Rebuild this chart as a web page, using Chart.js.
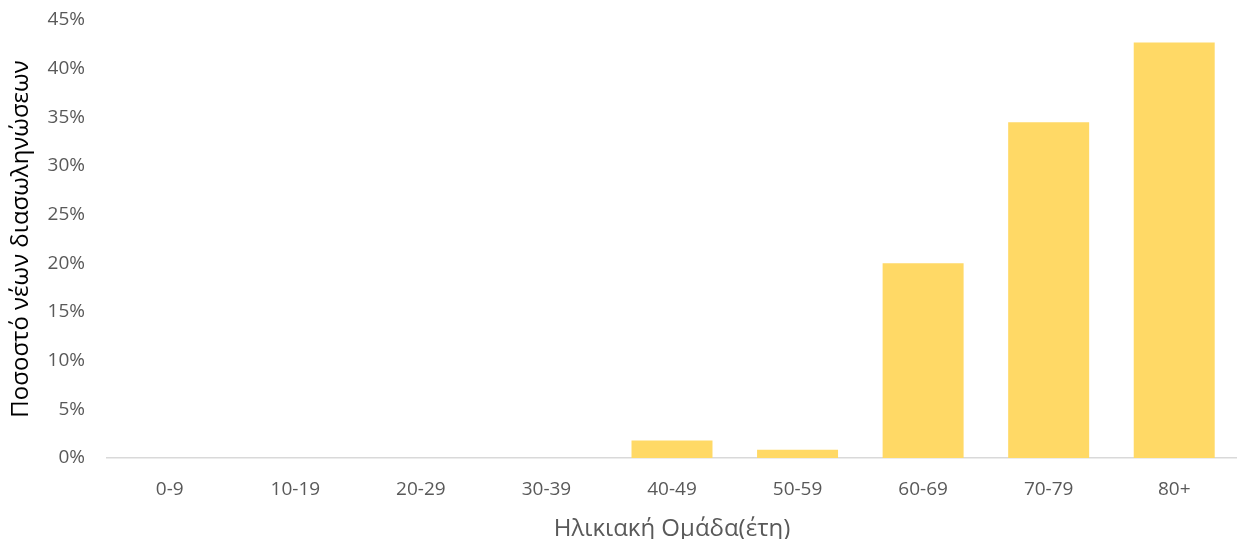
<!DOCTYPE html>
<html>
<head>
<meta charset="utf-8">
<script src="https://cdn.jsdelivr.net/npm/chart.js@4"></script>
<style>
  html, body { margin: 0; padding: 0; background: #fff; }
  #wrap { width: 1237px; height: 539px; }
</style>
</head>
<body>
<div id="wrap"><canvas id="ageChart"></canvas></div>
<script>
// age groups and share of new hospitalisations (%)
const ageGroups = ['0-9', '10-19', '20-29', '30-39', '40-49', '50-59', '60-69', '70-79', '80+'];
const shareValues = [0, 0, 0, 0, 1.8, 0.85, 20, 34.5, 42.7];
const yTicks = [0, 5, 10, 15, 20, 25, 30, 35, 40, 45];

const fontFamily = '"Open Sans", "DejaVu Sans", sans-serif';

let barChart = new Chart(document.getElementById('ageChart'), {
    type: 'bar',
    data: {
        labels: ageGroups,
        datasets: [{
            data: shareValues,
            backgroundColor: '#FFD966',
            borderWidth: 0,
            categoryPercentage: 1,
            barPercentage: 0.645
        }]
    },
    options: {
        responsive: true,
        maintainAspectRatio: false,
        animation: false,
        layout: { padding: { top: 20, right: 0, bottom: 0, left: 7 } },
        plugins: {
            legend: { display: false },
            tooltip: { enabled: false }
        },
        scales: {
            x: {
                afterFit: (scale) => { scale.height = 81; },
                grid: { display: false, drawTicks: false },
                border: { display: true, color: '#D9D9D9', width: 1.5 },
                ticks: {
                    color: '#595959',
                    font: { family: fontFamily, size: 19 },
                    padding: 20
                },
                title: {
                    display: true,
                    text: 'Ηλικιακή Ομάδα(έτη)',
                    color: '#595959',
                    font: { family: fontFamily, size: 24 },
                    padding: { top: 0, bottom: -5 }
                }
            },
            y: {
                min: 0,
                max: 45,
                afterFit: (scale) => {
                    scale.width = 100;
                    scale.paddingTop = 0;
                    scale.paddingBottom = 0;
                },
                afterBuildTicks: (axis) => {
                    axis.ticks = yTicks.map(v => ({ value: v }));
                },
                grid: { display: false, drawTicks: false },
                border: { display: false },
                ticks: {
                    color: '#595959',
                    font: { family: fontFamily, size: 19 },
                    padding: 22,
                    callback: (v) => v + '%'
                },
                title: {
                    display: true,
                    text: 'Ποσοστό νέων διασωληνώσεων',
                    color: '#000000',
                    font: { family: fontFamily, size: 24 },
                    padding: { top: 0, bottom: 10 }
                }
            }
        }
    }
});
</script>
</body>
</html>
